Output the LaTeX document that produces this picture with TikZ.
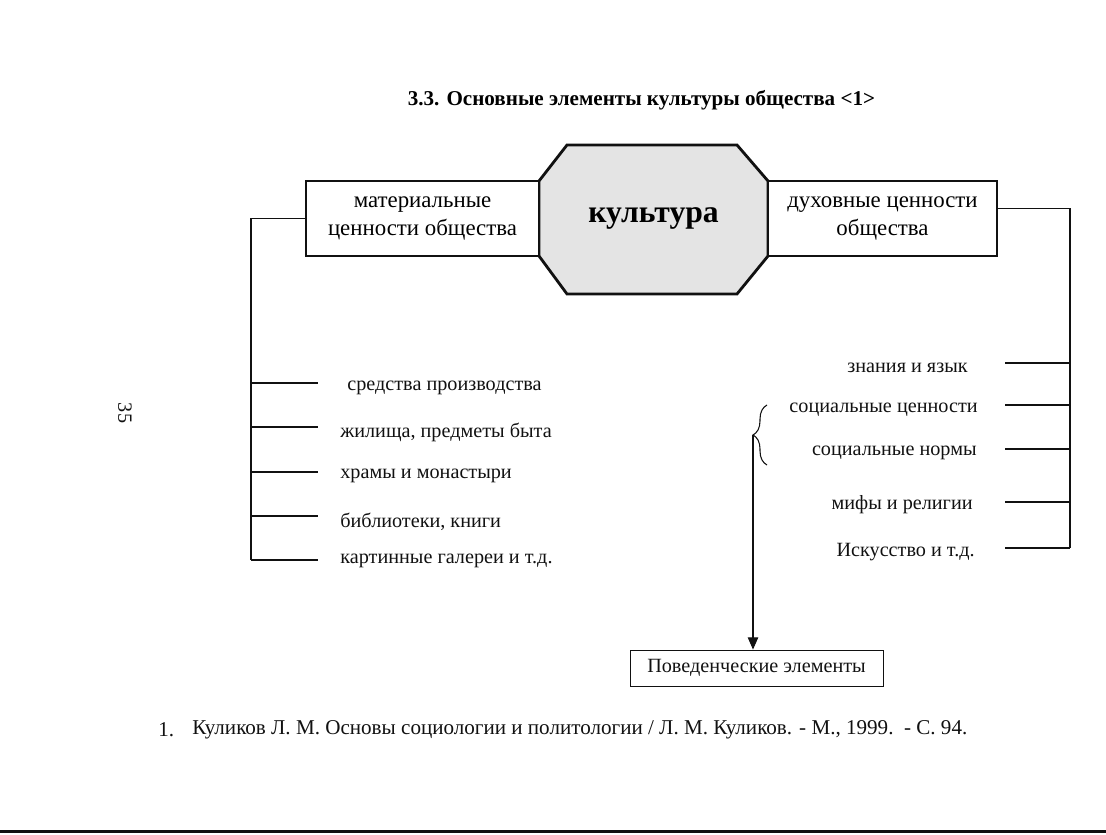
\documentclass[tikz,border=0pt]{standalone}
\usepackage{fontspec}
\setmainfont{Liberation Serif}
\usepackage{xcolor}
\usepackage{tikz}
\usetikzlibrary{arrows.meta,calc,decorations.pathreplacing}
\definecolor{inkmain}{HTML}{111111}
\definecolor{speckgray}{HTML}{E4E4E4}
\tikzset{every node/.append style={font=\rmfamily}}
\tikzset{
  valbox/.style={draw=inkmain,line width=1.6pt,fill=white,minimum height=1.5cm,
    align=center,inner sep=0pt,outer sep=0pt,font=\fontsize{13}{16}\selectfont},
  elem/.style={font=\fontsize{11.5}{13}\selectfont,inner sep=0pt,text=inkmain},
  branch/.style={inkmain,line width=0.6pt}
}

\begin{document}
\begin{tikzpicture}[>=Stealth,x=1cm,y=1cm]
  \useasboundingbox (0,0) rectangle (22.12,16.68);
  % the octagon goes first, the two value boxes lie on its flat sides
  \filldraw[inkmain,fill=speckgray,line width=1.6pt,line join=miter]
    (10.78,13.06)--(11.34,13.78)--(14.74,13.78)--(15.36,13.06)
    --(15.36,11.56)--(14.74,10.80)--(11.34,10.80)--(10.78,11.56)--cycle;
  \node[font=\bfseries\fontsize{12}{14}\selectfont] (title) at (12.83,14.68)
    {3.3. Основные элементы культуры общества <1>};
  \node[font=\bfseries\fontsize{18}{22}\selectfont] (kult) at (13.07,12.32) {культура};
  \node[valbox,minimum width=4.66cm] (mat) at (8.45,12.31) {материальные\\ценности общества};
  \node[valbox,minimum width=4.58cm] (duh) at (17.65,12.31) {духовные ценности\\общества};

  \foreach \yb/\yt/\xt/\txt [count=\i] in {9.02/8.92/6.94/{средства производства},
      8.14/8.04/6.80/{жилища, предметы быта},7.24/7.16/6.80/{храмы и монастыри},
      6.36/6.24/6.80/{библиотеки, книги},5.48/5.46/6.80/{картинные галереи и т.д.}}{
    \coordinate (lb\i) at (5.02,\yb);
    \coordinate (le\i) at (6.36,\yb);
    \node[elem,anchor=west] (lt\i) at (\xt,\yt) {\txt};
    \draw[branch] (lb\i) -- (le\i);
  }
  \draw[branch] (mat.west) -| (lb5);

  \foreach \yb/\yt/\xt/\txt [count=\i] in {9.42/9.32/19.36/{знания и язык},
      8.58/8.48/19.56/{социальные ценности},7.70/7.62/19.54/{социальные нормы},
      6.64/6.58/19.46/{мифы и религии},5.72/5.64/19.50/{Искусство и т.д.}}{
    \coordinate (rb\i) at (21.40,\yb);
    \coordinate (re\i) at (20.10,\yb);
    \node[elem,anchor=east] (rt\i) at (\xt,\yt) {\txt};
    \draw[branch] (re\i) -- (rb\i);
  }
  \draw[branch] ([yshift=0.2cm]duh.east) -| (rb5);

  \coordinate (brlo) at (15.34,7.38);
  \coordinate (brhi) at (15.34,8.58);
  \coordinate (brtip) at (15.06,7.98);
  \draw[branch,decorate,decoration={brace,amplitude=0.28cm}] (brlo) -- (brhi);
  \node[elem,draw=inkmain,line width=0.5pt,minimum width=5.06cm,minimum height=0.72cm]
    (beh) at (15.13,3.32) {Поведенческие элементы};
  \draw[branch,-{Triangle[length=7pt,width=6pt]}] (brtip) -- (brtip |- beh.north);

  \node[elem,rotate=-90] (pgnum) at (2.50,8.42) {35};
  \node[elem,anchor=west,font=\fontsize{12}{14}\selectfont] (fnnum) at (3.16,2.08) {1.};
  \node[elem,anchor=west,font=\fontsize{12}{14}\selectfont] (fntext) at (3.84,2.08)
    {Куликов Л. М. Основы социологии и политологии / Л. М. Куликов. - М., 1999.\ \ - С. 94.};
  \coordinate (rulel) at (0,0.05);
  \coordinate (ruler) at (22.12,0.05);
  \draw[inkmain,line width=1.2pt] (rulel) -- (ruler);
\end{tikzpicture}
\end{document}
